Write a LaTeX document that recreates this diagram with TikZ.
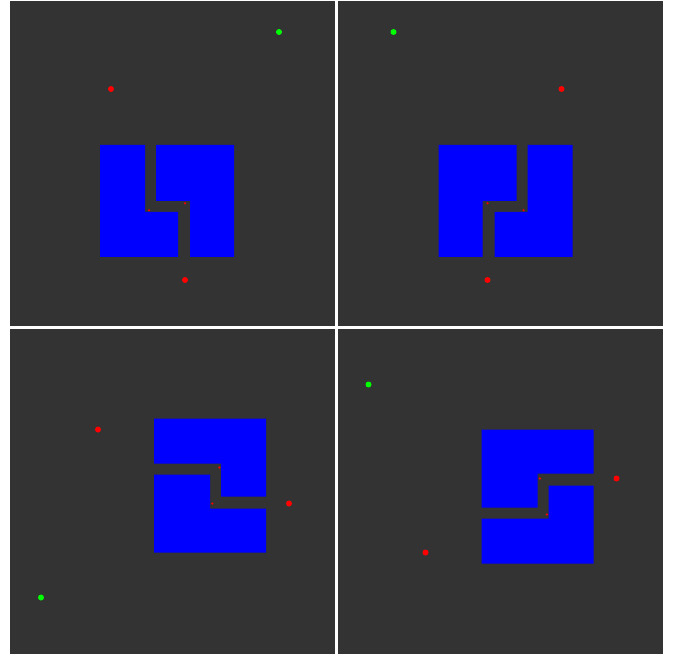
\documentclass[tikz,border=0pt]{standalone}
\definecolor{panelbg}{RGB}{51,51,51}
\definecolor{wallblue}{RGB}{0,0,255}
\definecolor{goalgreen}{RGB}{0,255,0}
\definecolor{ptred}{RGB}{255,0,0}
\tikzset{
  panelbox/.style={fill=panelbg},
  wall/.style={fill=wallblue},
  goaldot/.style={fill=goalgreen},
  reddot/.style={fill=ptred},
  tinymark/.style={fill=ptred}
}
\newcommand{\mazecontent}{%
  \fill[panelbox] (-162.5,-162.5) rectangle (162.5,162.5);
  \fill[wall] (-72.5,-18.5) -- (-27.5,-18.5) -- (-27.5,48.5) -- (5.5,48.5) -- (5.5,93.5) -- (-72.5,93.5) -- cycle;
  \fill[wall] (-16.5,-18.5) -- (61.5,-18.5) -- (61.5,93.5) -- (17.5,93.5) -- (17.5,37.5) -- (-16.5,37.5) -- cycle;
  \fill[tinymark] (-23.5,46.8) circle (1.2);
  \fill[tinymark] (12.5,39.8) circle (1.2);
  \fill[goaldot] (106.5,-131.5) circle (3);
  \fill[reddot] (-61.5,-74.5) circle (3);
  \fill[reddot] (12.5,116.5) circle (3);
}
\begin{document}
\begin{tikzpicture}[x=1pt,y=1pt]
  \fill[white] (0,0) rectangle (677,-660);
  \useasboundingbox (0,0) rectangle (677,-660);
  \begin{scope}[cm={1,0,0,-1,(172.5,-163.5)}]\mazecontent\end{scope}
  \begin{scope}[cm={-1,0,0,-1,(500,-163.5)}]\mazecontent\end{scope}
  \begin{scope}[cm={0,-1,1,0,(172.5,-491)}]\mazecontent\end{scope}
  \begin{scope}[cm={0,1,1,0,(500,-491)}]\mazecontent\end{scope}
\end{tikzpicture}
\end{document}
